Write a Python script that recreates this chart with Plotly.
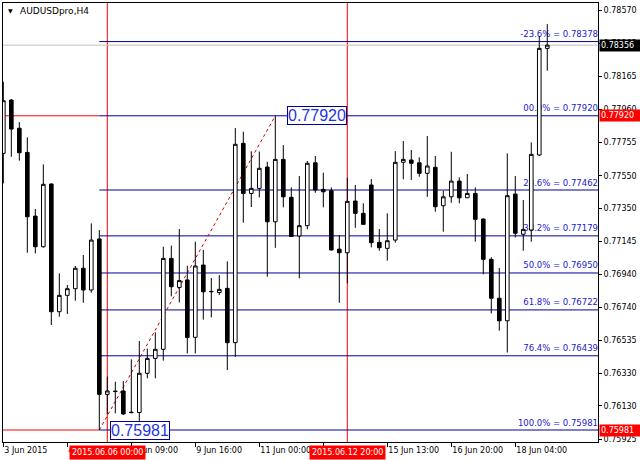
import plotly.graph_objects as go

# AUDUSDpro H4 bars (index = bar number)
bars = list(range(69))
opens = [0.77688, 0.78017, 0.77843, 0.77694, 0.77301, 0.77112, 0.77499, 0.76711, 0.76812, 0.76853,
         0.76979, 0.76845, 0.77160, 0.76201, 0.76218, 0.76222, 0.76088, 0.76089, 0.76331, 0.76423,
         0.76479, 0.77040, 0.76861, 0.76907, 0.76553, 0.76999, 0.76834, 0.76829, 0.76855, 0.76520,
         0.77750, 0.77441, 0.77472, 0.77604, 0.77266, 0.77651, 0.77417, 0.77178, 0.77242, 0.77630,
         0.77466, 0.77458, 0.77097, 0.77075, 0.77394, 0.77318, 0.77493, 0.77139, 0.77102, 0.77153,
         0.77633, 0.77647, 0.77630, 0.77565, 0.77602, 0.77365, 0.77420, 0.77517, 0.77414, 0.77441,
         0.77283, 0.77034, 0.76794, 0.76655, 0.77437, 0.77189, 0.77215, 0.77678, 0.78336]
highs = [0.78130, 0.78023, 0.77881, 0.77787, 0.77345, 0.77620, 0.77503, 0.76948, 0.76876, 0.76993,
         0.77061, 0.77256, 0.77215, 0.76310, 0.76279, 0.76283, 0.76417, 0.76530, 0.76484, 0.76584,
         0.77112, 0.77119, 0.77221, 0.76995, 0.77143, 0.77092, 0.76919, 0.76937, 0.77022, 0.77844,
         0.77822, 0.77701, 0.77699, 0.77636, 0.77920, 0.77739, 0.77478, 0.77548, 0.77641, 0.77672,
         0.77569, 0.77478, 0.77184, 0.77538, 0.77493, 0.77380, 0.77530, 0.77221, 0.77318, 0.77702,
         0.77764, 0.77709, 0.77664, 0.77795, 0.77672, 0.77458, 0.77698, 0.77540, 0.77561, 0.77478,
         0.77286, 0.77047, 0.76981, 0.77688, 0.77548, 0.77400, 0.77756, 0.78412, 0.78486]
lows = [0.77503, 0.77667, 0.77643, 0.77075, 0.77071, 0.77106, 0.76629, 0.76680, 0.76697, 0.76779,
        0.76766, 0.76828, 0.75981, 0.76080, 0.76084, 0.76074, 0.76084, 0.76037, 0.76300, 0.76300,
        0.76409, 0.76806, 0.76768, 0.76454, 0.76454, 0.76662, 0.76676, 0.76814, 0.76351, 0.76433,
        0.77260, 0.77357, 0.77416, 0.76927, 0.77105, 0.77355, 0.77172, 0.76917, 0.77219, 0.77445,
        0.77355, 0.77089, 0.76766, 0.76886, 0.77229, 0.77249, 0.77108, 0.77087, 0.77026, 0.77137,
        0.77528, 0.77524, 0.77544, 0.77420, 0.77328, 0.77205, 0.77383, 0.77380, 0.77413, 0.77143,
        0.76942, 0.76701, 0.76594, 0.76459, 0.77170, 0.77087, 0.77143, 0.77672, 0.78198]
closes = [0.78013, 0.77838, 0.77692, 0.77297, 0.77112, 0.77497, 0.76711, 0.76812, 0.76853, 0.76979,
          0.76845, 0.77153, 0.76201, 0.76222, 0.76220, 0.76080, 0.76090, 0.76331, 0.76423, 0.76479,
          0.77040, 0.76865, 0.76903, 0.76552, 0.76993, 0.76834, 0.76836, 0.76849, 0.76520, 0.77744,
          0.77441, 0.77472, 0.77596, 0.77266, 0.77651, 0.77420, 0.77175, 0.77242, 0.77627, 0.77462,
          0.77451, 0.77092, 0.77075, 0.77392, 0.77318, 0.77250, 0.77137, 0.77106, 0.77149, 0.77633,
          0.77651, 0.77627, 0.77565, 0.77610, 0.77359, 0.77420, 0.77517, 0.77414, 0.77441, 0.77281,
          0.77034, 0.76794, 0.76655, 0.77427, 0.77195, 0.77219, 0.77682, 0.78336, 0.78356]

# fibonacci object: from bar 12 low to bar 34 high
fib_from, fib_to = 12, 34
fib_low, fib_high = 0.75981, 0.77920
fib_levels = [0.78378, 0.77920, 0.77462, 0.77179, 0.76950, 0.76722, 0.76439, 0.75981]
fib_names = ["-23.6%", "00.0%", "23.6%", "38.2%", "50.0%", "61.8%", "76.4%", "100.0%"]

bid = 0.78356
vline_bars = [13, 43]
vline_times = ["2015.06.06 00:00", "2015.06.12 20:00"]

price_ticks = [0.78570, 0.78365, 0.78165, 0.77960, 0.77755, 0.77550, 0.77350,
               0.77145, 0.76940, 0.76740, 0.76535, 0.76330, 0.76130, 0.75925]
time_ticks = [0, 8, 16, 24, 32, 40, 48, 56, 64]
time_labels = ["3 Jun 2015", "4 Jun 08:00", "8 Jun 09:00", "9 Jun 16:00", "11 Jun 00:00",
               "12 Jun 08:00", "15 Jun 13:00", "16 Jun 20:00", "18 Jun 04:00"]

X_MIN, X_MAX = -0.04, 74.34
Y_MIN, Y_MAX = 0.75907, 0.78616

FONT = "DejaVu Sans"
FIB_LINE = "#000096"
FIB_TEXT = "#2020d0"
RED = "#ff0000"

W, H = 640, 460
L, R, T, B = 3, 42, 3, 18
pw, ph = W - L - R, H - T - B


def px_x(p):
    return (p - L) / pw


def px_y(p):
    return 1 - (p - T) / ph


fig = go.Figure()
fig.add_trace(go.Candlestick(
    x=bars, open=opens, high=highs, low=lows, close=closes,
    increasing=dict(line=dict(color="black", width=1), fillcolor="white"),
    decreasing=dict(line=dict(color="black", width=1), fillcolor="black"),
    whiskerwidth=0, hoverinfo="skip", showlegend=False,
))

shapes = []
# bid line
shapes.append(dict(type="line", xref="x", yref="y", x0=X_MIN, x1=X_MAX, y0=bid, y1=bid,
                   line=dict(color="#c0c0c0", width=1), layer="below"))
# red horizontal lines left of the fibo
for p in [fib_high, fib_low]:
    shapes.append(dict(type="line", xref="x", yref="y", x0=X_MIN, x1=fib_from, y0=p, y1=p,
                       line=dict(color=RED, width=1), layer="below"))
# red vertical lines
for b in vline_bars:
    shapes.append(dict(type="line", xref="x", yref="paper", x0=b, x1=b, y0=0, y1=1,
                       line=dict(color=RED, width=1), layer="below"))
# fibo levels with their labels
for lvl, name in zip(fib_levels, fib_names):
    shapes.append(dict(type="line", xref="x", yref="y", x0=fib_from, x1=X_MAX, y0=lvl, y1=lvl,
                       line=dict(color=FIB_LINE, width=1), layer="below",
                       label=dict(text=f"{name} = {lvl:.5f}", textposition="end",
                                  xanchor="right", yanchor="bottom", padding=3,
                                  font=dict(family=FONT, size=8.5, color=FIB_TEXT))))
# fibo trend line
shapes.append(dict(type="line", xref="x", yref="y", x0=fib_from, x1=fib_to, y0=fib_low, y1=fib_high,
                   line=dict(color="#d00000", width=1, dash="dot"), layer="below"))

ann = []
ann.append(dict(text="AUDUSDpro,H4", xref="paper", yref="paper", x=px_x(18), y=px_y(11),
                xanchor="left", yanchor="middle", showarrow=False,
                font=dict(family=FONT, size=9, color="black")))
ann.append(dict(text="▼", xref="paper", yref="paper", x=px_x(10), y=px_y(11),
                xanchor="center", yanchor="middle", showarrow=False,
                font=dict(family=FONT, size=6, color="black")))
# boxed price labels of the fibo ends
for bx, p in [(35.4, fib_high), (13.35, fib_low)]:
    ann.append(dict(text=f"{p:.5f}", xref="x", yref="y", x=bx, y=p, xanchor="left", yanchor="middle",
                    showarrow=False, bgcolor="white", bordercolor=FIB_LINE, borderwidth=1, borderpad=0,
                    font=dict(family="Liberation Sans", size=16, color="#1e32e6")))
# price labels on the right scale
for p, bg in [(bid, "black"), (fib_high, RED), (fib_low, RED)]:
    ann.append(dict(text=f"{p:.5f}", xref="paper", yref="y", x=1, y=p, xanchor="left", yanchor="middle",
                    showarrow=False, bgcolor=bg, borderpad=1, width=40, align="left", xshift=1,
                    font=dict(family=FONT, size=8, color="white")))
# time labels of the vertical lines
for b, t in zip(vline_bars, vline_times):
    ann.append(dict(text=t, xref="x", yref="paper", x=b, y=px_y(452.5), xanchor="center", yanchor="middle",
                    showarrow=False, bgcolor=RED, borderpad=2,
                    font=dict(family=FONT, size=8, color="white")))

fig.update_layout(
    width=W, height=H, margin=dict(l=L, r=R, t=T, b=B),
    paper_bgcolor="white", plot_bgcolor="white",
    shapes=shapes, annotations=ann, boxgap=0.35, showlegend=False,
    font=dict(family=FONT, size=8, color="black"),
)
fig.update_xaxes(
    range=[X_MIN, X_MAX], rangeslider=dict(visible=False), showgrid=False, zeroline=False,
    showline=True, linecolor="black", linewidth=1, mirror=True,
    tickmode="array", tickvals=time_ticks, ticktext=time_labels,
    ticks="outside", ticklen=4, tickcolor="black", ticklabelposition="outside right",
    tickfont=dict(family=FONT, size=8, color="black"),
)
fig.update_yaxes(
    range=[Y_MIN, Y_MAX], side="right", showgrid=False, zeroline=False,
    showline=True, linecolor="black", linewidth=1, mirror=True,
    tickmode="array", tickvals=price_ticks, tickformat=".5f",
    ticks="outside", ticklen=3, tickcolor="black",
    tickfont=dict(family=FONT, size=8, color="black"),
)

# the page body has an 8px margin by default; drop it so the chart sits at 0,0
fig.write_html("out.html", config={"displayModeBar": False},
               post_script="document.body.style.margin='0px';")
